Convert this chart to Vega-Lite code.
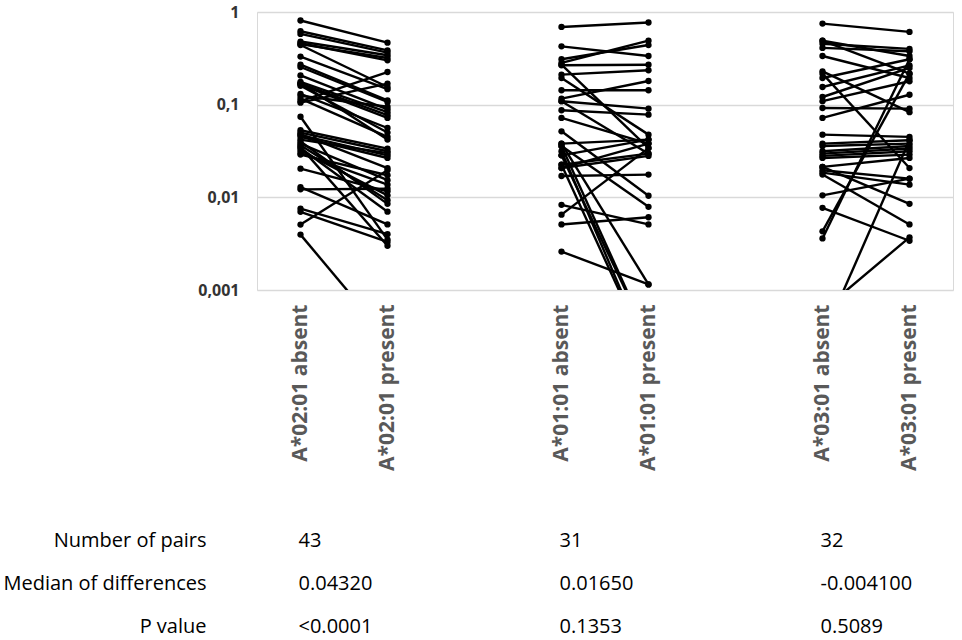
{
  "$schema": "https://vega.github.io/schema/vega-lite/v6.json",
  "padding": {"top": 3, "left": 2, "right": 5, "bottom": 0},
  "spacing": 48,
  "config": {"view": {"stroke": "#d9d9d9"}},
  "vconcat": [
    {
      "width": 696,
      "height": 278,
      "data": {"values": [
        {"id":"a1","c":"A*02:01 absent","v":0.81},{"id":"a1","c":"A*02:01 present","v":0.467},
        {"id":"a2","c":"A*02:01 absent","v":0.62},{"id":"a2","c":"A*02:01 present","v":0.386},
        {"id":"a3","c":"A*02:01 absent","v":0.58},{"id":"a3","c":"A*02:01 present","v":0.364},
        {"id":"a4","c":"A*02:01 absent","v":0.48},{"id":"a4","c":"A*02:01 present","v":0.341},
        {"id":"a5","c":"A*02:01 absent","v":0.45},{"id":"a5","c":"A*02:01 present","v":0.319},
        {"id":"a6","c":"A*02:01 absent","v":0.44},{"id":"a6","c":"A*02:01 present","v":0.155},
        {"id":"a7","c":"A*02:01 absent","v":0.46},{"id":"a7","c":"A*02:01 present","v":0.301},
        {"id":"a8","c":"A*02:01 absent","v":0.33},{"id":"a8","c":"A*02:01 present","v":0.147},
        {"id":"a9","c":"A*02:01 absent","v":0.27},{"id":"a9","c":"A*02:01 present","v":0.111},
        {"id":"a10","c":"A*02:01 absent","v":0.255},{"id":"a10","c":"A*02:01 present","v":0.107},
        {"id":"a11","c":"A*02:01 absent","v":0.207},{"id":"a11","c":"A*02:01 present","v":0.089},
        {"id":"a12","c":"A*02:01 absent","v":0.176},{"id":"a12","c":"A*02:01 present","v":0.083},
        {"id":"a13","c":"A*02:01 absent","v":0.169},{"id":"a13","c":"A*02:01 present","v":0.077},
        {"id":"a14","c":"A*02:01 absent","v":0.165},{"id":"a14","c":"A*02:01 present","v":0.072},
        {"id":"a15","c":"A*02:01 absent","v":0.131},{"id":"a15","c":"A*02:01 present","v":0.056},
        {"id":"a16","c":"A*02:01 absent","v":0.116},{"id":"a16","c":"A*02:01 present","v":0.045},
        {"id":"a17","c":"A*02:01 absent","v":0.109},{"id":"a17","c":"A*02:01 present","v":0.225},
        {"id":"a18","c":"A*02:01 absent","v":0.105},{"id":"a18","c":"A*02:01 present","v":0.169},
        {"id":"a19","c":"A*02:01 absent","v":0.17},{"id":"a19","c":"A*02:01 present","v":0.042},
        {"id":"a20","c":"A*02:01 absent","v":0.074},{"id":"a20","c":"A*02:01 present","v":0.0035},
        {"id":"a21","c":"A*02:01 absent","v":0.053},{"id":"a21","c":"A*02:01 present","v":0.0336},
        {"id":"a22","c":"A*02:01 absent","v":0.05},{"id":"a22","c":"A*02:01 present","v":0.0314},
        {"id":"a23","c":"A*02:01 absent","v":0.047},{"id":"a23","c":"A*02:01 present","v":0.0284},
        {"id":"a24","c":"A*02:01 absent","v":0.045},{"id":"a24","c":"A*02:01 present","v":0.0266},
        {"id":"a25","c":"A*02:01 absent","v":0.048},{"id":"a25","c":"A*02:01 present","v":0.0207},
        {"id":"a26","c":"A*02:01 absent","v":0.038},{"id":"a26","c":"A*02:01 present","v":0.0153},
        {"id":"a27","c":"A*02:01 absent","v":0.0365},{"id":"a27","c":"A*02:01 present","v":0.0093},
        {"id":"a28","c":"A*02:01 absent","v":0.04},{"id":"a28","c":"A*02:01 present","v":0.0085},
        {"id":"a29","c":"A*02:01 absent","v":0.0289},{"id":"a29","c":"A*02:01 present","v":0.0173},
        {"id":"a30","c":"A*02:01 absent","v":0.03},{"id":"a30","c":"A*02:01 present","v":0.0137},
        {"id":"a31","c":"A*02:01 absent","v":0.0204},{"id":"a31","c":"A*02:01 present","v":0.0116},
        {"id":"a32","c":"A*02:01 absent","v":0.0129},{"id":"a32","c":"A*02:01 present","v":0.0051},
        {"id":"a33","c":"A*02:01 absent","v":0.0122},{"id":"a33","c":"A*02:01 present","v":0.0124},
        {"id":"a34","c":"A*02:01 absent","v":0.00755},{"id":"a34","c":"A*02:01 present","v":0.004},
        {"id":"a35","c":"A*02:01 absent","v":0.00697},{"id":"a35","c":"A*02:01 present","v":0.0033},
        {"id":"a36","c":"A*02:01 absent","v":0.00508},{"id":"a36","c":"A*02:01 present","v":0.0196},
        {"id":"a37","c":"A*02:01 absent","v":0.00396},{"id":"a37","c":"A*02:01 present","v":0.0003},
        {"id":"a38","c":"A*02:01 absent","v":0.034},{"id":"a38","c":"A*02:01 present","v":0.007},
        {"id":"a39","c":"A*02:01 absent","v":0.042},{"id":"a39","c":"A*02:01 present","v":0.03},
        {"id":"a40","c":"A*02:01 absent","v":0.032},{"id":"a40","c":"A*02:01 present","v":0.0105},
        {"id":"a41","c":"A*02:01 absent","v":0.16},{"id":"a41","c":"A*02:01 present","v":0.05},
        {"id":"a42","c":"A*02:01 absent","v":0.125},{"id":"a42","c":"A*02:01 present","v":0.095},
        {"id":"a43","c":"A*02:01 absent","v":0.035},{"id":"a43","c":"A*02:01 present","v":0.003},
        {"id":"b1","c":"A*01:01 absent","v":0.69},{"id":"b1","c":"A*01:01 present","v":0.77},
        {"id":"b2","c":"A*01:01 absent","v":0.426},{"id":"b2","c":"A*01:01 present","v":0.335},
        {"id":"b3","c":"A*01:01 absent","v":0.282},{"id":"b3","c":"A*01:01 present","v":0.49},
        {"id":"b4","c":"A*01:01 absent","v":0.309},{"id":"b4","c":"A*01:01 present","v":0.44},
        {"id":"b5","c":"A*01:01 absent","v":0.266},{"id":"b5","c":"A*01:01 present","v":0.27},
        {"id":"b6","c":"A*01:01 absent","v":0.211},{"id":"b6","c":"A*01:01 present","v":0.235},
        {"id":"b7","c":"A*01:01 absent","v":0.194},{"id":"b7","c":"A*01:01 present","v":0.0475},
        {"id":"b8","c":"A*01:01 absent","v":0.27},{"id":"b8","c":"A*01:01 present","v":0.034},
        {"id":"b9","c":"A*01:01 absent","v":0.143},{"id":"b9","c":"A*01:01 present","v":0.143},
        {"id":"b10","c":"A*01:01 absent","v":0.116},{"id":"b10","c":"A*01:01 present","v":0.18},
        {"id":"b11","c":"A*01:01 absent","v":0.109},{"id":"b11","c":"A*01:01 present","v":0.0906},
        {"id":"b12","c":"A*01:01 absent","v":0.087},{"id":"b12","c":"A*01:01 present","v":0.078},
        {"id":"b13","c":"A*01:01 absent","v":0.072},{"id":"b13","c":"A*01:01 present","v":0.038},
        {"id":"b14","c":"A*01:01 absent","v":0.0516},{"id":"b14","c":"A*01:01 present","v":0.0104},
        {"id":"b15","c":"A*01:01 absent","v":0.038},{"id":"b15","c":"A*01:01 present","v":0.042},
        {"id":"b16","c":"A*01:01 absent","v":0.0358},{"id":"b16","c":"A*01:01 present","v":0.0003},
        {"id":"b17","c":"A*01:01 absent","v":0.0314},{"id":"b17","c":"A*01:01 present","v":0.0002},
        {"id":"b18","c":"A*01:01 absent","v":0.0284},{"id":"b18","c":"A*01:01 present","v":0.0003},
        {"id":"b19","c":"A*01:01 absent","v":0.0225},{"id":"b19","c":"A*01:01 present","v":0.0296},
        {"id":"b20","c":"A*01:01 absent","v":0.0207},{"id":"b20","c":"A*01:01 present","v":0.028},
        {"id":"b21","c":"A*01:01 absent","v":0.017},{"id":"b21","c":"A*01:01 present","v":0.0176},
        {"id":"b22","c":"A*01:01 absent","v":0.0083},{"id":"b22","c":"A*01:01 present","v":0.0051},
        {"id":"b23","c":"A*01:01 absent","v":0.0065},{"id":"b23","c":"A*01:01 present","v":0.034},
        {"id":"b24","c":"A*01:01 absent","v":0.0051},{"id":"b24","c":"A*01:01 present","v":0.0061},
        {"id":"b25","c":"A*01:01 absent","v":0.0026},{"id":"b25","c":"A*01:01 present","v":0.00115},
        {"id":"b26","c":"A*01:01 absent","v":0.0358},{"id":"b26","c":"A*01:01 present","v":0.0079},
        {"id":"b27","c":"A*01:01 absent","v":0.038},{"id":"b27","c":"A*01:01 present","v":0.00115},
        {"id":"b28","c":"A*01:01 absent","v":0.0225},{"id":"b28","c":"A*01:01 present","v":0.0002},
        {"id":"b29","c":"A*01:01 absent","v":0.0284},{"id":"b29","c":"A*01:01 present","v":0.042},
        {"id":"b30","c":"A*01:01 absent","v":0.109},{"id":"b30","c":"A*01:01 present","v":0.0296},
        {"id":"b31","c":"A*01:01 absent","v":0.0207},{"id":"b31","c":"A*01:01 present","v":0.038},
        {"id":"c1","c":"A*03:01 absent","v":0.75},{"id":"c1","c":"A*03:01 present","v":0.61},
        {"id":"c2","c":"A*03:01 absent","v":0.49},{"id":"c2","c":"A*03:01 present","v":0.335},
        {"id":"c3","c":"A*03:01 absent","v":0.455},{"id":"c3","c":"A*03:01 present","v":0.4},
        {"id":"c4","c":"A*03:01 absent","v":0.41},{"id":"c4","c":"A*03:01 present","v":0.377},
        {"id":"c5","c":"A*03:01 absent","v":0.335},{"id":"c5","c":"A*03:01 present","v":0.194},
        {"id":"c6","c":"A*03:01 absent","v":0.49},{"id":"c6","c":"A*03:01 present","v":0.216},
        {"id":"c7","c":"A*03:01 absent","v":0.229},{"id":"c7","c":"A*03:01 present","v":0.083},
        {"id":"c8","c":"A*03:01 absent","v":0.216},{"id":"c8","c":"A*03:01 present","v":0.0207},
        {"id":"c9","c":"A*03:01 absent","v":0.194},{"id":"c9","c":"A*03:01 present","v":0.309},
        {"id":"c10","c":"A*03:01 absent","v":0.155},{"id":"c10","c":"A*03:01 present","v":0.266},
        {"id":"c11","c":"A*03:01 absent","v":0.121},{"id":"c11","c":"A*03:01 present","v":0.249},
        {"id":"c12","c":"A*03:01 absent","v":0.109},{"id":"c12","c":"A*03:01 present","v":0.179},
        {"id":"c13","c":"A*03:01 absent","v":0.092},{"id":"c13","c":"A*03:01 present","v":0.0906},
        {"id":"c14","c":"A*03:01 absent","v":0.072},{"id":"c14","c":"A*03:01 present","v":0.128},
        {"id":"c15","c":"A*03:01 absent","v":0.0043},{"id":"c15","c":"A*03:01 present","v":0.216},
        {"id":"c16","c":"A*03:01 absent","v":0.0036},{"id":"c16","c":"A*03:01 present","v":0.309},
        {"id":"c17","c":"A*03:01 absent","v":0.0475},{"id":"c17","c":"A*03:01 present","v":0.0449},
        {"id":"c18","c":"A*03:01 absent","v":0.038},{"id":"c18","c":"A*03:01 present","v":0.0413},
        {"id":"c19","c":"A*03:01 absent","v":0.0358},{"id":"c19","c":"A*03:01 present","v":0.038},
        {"id":"c20","c":"A*03:01 absent","v":0.0314},{"id":"c20","c":"A*03:01 present","v":0.0358},
        {"id":"c21","c":"A*03:01 absent","v":0.0296},{"id":"c21","c":"A*03:01 present","v":0.0336},
        {"id":"c22","c":"A*03:01 absent","v":0.028},{"id":"c22","c":"A*03:01 present","v":0.0314},
        {"id":"c23","c":"A*03:01 absent","v":0.0266},{"id":"c23","c":"A*03:01 present","v":0.0289},
        {"id":"c24","c":"A*03:01 absent","v":0.0213},{"id":"c24","c":"A*03:01 present","v":0.0266},
        {"id":"c25","c":"A*03:01 absent","v":0.0196},{"id":"c25","c":"A*03:01 present","v":0.0159},
        {"id":"c26","c":"A*03:01 absent","v":0.0185},{"id":"c26","c":"A*03:01 present","v":0.0137},
        {"id":"c27","c":"A*03:01 absent","v":0.0176},{"id":"c27","c":"A*03:01 present","v":0.0051},
        {"id":"c28","c":"A*03:01 absent","v":0.0105},{"id":"c28","c":"A*03:01 present","v":0.0159},
        {"id":"c29","c":"A*03:01 absent","v":0.0077},{"id":"c29","c":"A*03:01 present","v":0.0034},
        {"id":"c30","c":"A*03:01 absent","v":0.0006},{"id":"c30","c":"A*03:01 present","v":0.0037},
        {"id":"c31","c":"A*03:01 absent","v":0.0003},{"id":"c31","c":"A*03:01 present","v":0.0413},
        {"id":"c32","c":"A*03:01 absent","v":0.0213},{"id":"c32","c":"A*03:01 present","v":0.0085}
      ]},
      "encoding": {
        "x": {
          "field": "c", "type": "nominal",
          "scale": {"type": "point", "padding": 0.5,
            "domain": ["A*02:01 absent","A*02:01 present","gap1","A*01:01 absent","A*01:01 present","gap2","A*03:01 absent","A*03:01 present"]},
          "axis": {
            "title": null, "domain": false, "ticks": false, "grid": false,
            "labelAngle": -90, "labelPadding": 14, "labelFont": "Open Sans",
            "labelFontSize": 21, "labelFontWeight": "bold", "labelColor": "#595959",
            "labelOverlap": false, "labelLimit": 0,
            "labelExpr": "indexof(datum.value, 'gap') == 0 ? '' : datum.value"
          }
        },
        "y": {
          "field": "v", "type": "quantitative",
          "scale": {"type": "log", "domain": [0.001, 1]},
          "axis": {
            "title": null, "domain": false, "ticks": false,
            "values": [1, 0.1, 0.01, 0.001],
            "gridColor": "#d9d9d9", "gridWidth": 1.3,
            "labelFont": "Open Sans", "labelFontSize": 16, "labelFontWeight": "bold",
            "labelColor": "#333333", "labelPadding": 18,
            "labelExpr": "replace(toString(datum.value), '.', ',')"
          }
        }
      },
      "layer": [
        {
          "mark": {"type": "line", "color": "black", "strokeWidth": 2.4, "clip": true},
          "encoding": {"detail": {"field": "id"}}
        },
        {
          "mark": {"type": "point", "filled": true, "color": "black", "opacity": 1, "size": 40, "clip": true}
        }
      ]
    },
    {
      "width": 696,
      "height": 129,
      "view": {"stroke": null},
      "data": {"values": [
        {"row": "Number of pairs", "c": "A*02:01 absent", "t": "43"},
        {"row": "Number of pairs", "c": "A*01:01 absent", "t": "31"},
        {"row": "Number of pairs", "c": "A*03:01 absent", "t": "32"},
        {"row": "Median of differences", "c": "A*02:01 absent", "t": "0.04320"},
        {"row": "Median of differences", "c": "A*01:01 absent", "t": "0.01650"},
        {"row": "Median of differences", "c": "A*03:01 absent", "t": "-0.004100"},
        {"row": "P value", "c": "A*02:01 absent", "t": "<0.0001"},
        {"row": "P value", "c": "A*01:01 absent", "t": "0.1353"},
        {"row": "P value", "c": "A*03:01 absent", "t": "0.5089"}
      ]},
      "mark": {"type": "text", "align": "left", "dx": -2, "font": "Open Sans", "fontSize": 20, "color": "black"},
      "encoding": {
        "x": {
          "field": "c", "type": "nominal",
          "scale": {"type": "point", "padding": 0.5,
            "domain": ["A*02:01 absent","A*02:01 present","gap1","A*01:01 absent","A*01:01 present","gap2","A*03:01 absent","A*03:01 present"]},
          "axis": null
        },
        "y": {
          "field": "row", "type": "nominal",
          "sort": ["Number of pairs", "Median of differences", "P value"],
          "scale": {"type": "point", "padding": 0.5},
          "axis": {
            "title": null, "domain": false, "ticks": false, "grid": false,
            "labelFont": "Open Sans", "labelFontSize": 20,
            "labelColor": "black", "labelPadding": 51, "labelLimit": 0
          }
        },
        "text": {"field": "t"}
      }
    }
  ]
}
